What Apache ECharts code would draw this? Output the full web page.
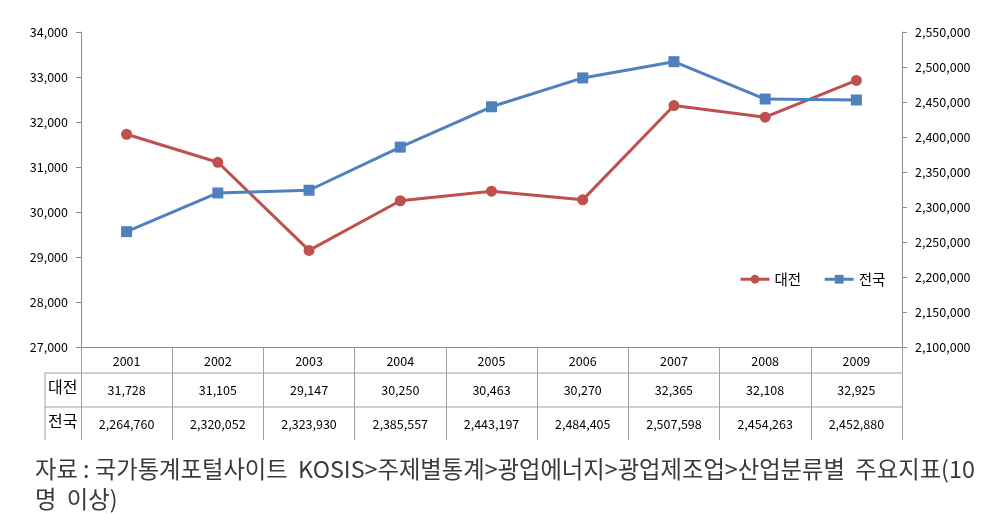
<!DOCTYPE html>
<html><head><meta charset="utf-8">
<script src="https://cdn.jsdelivr.net/npm/echarts@6/dist/echarts.min.js"></script>
<style>html,body{margin:0;padding:0;background:#fff}#c{width:1002px;height:514px}</style>
</head><body><div id="c"></div>
<script>
const years = ['2001','2002','2003','2004','2005','2006','2007','2008','2009'];
const seriesNames = ['대전','전국'];
const daejeon = [31728,31105,29147,30250,30463,30270,32365,32108,32925];
const national = [2264760,2320052,2323930,2385557,2443197,2484405,2507598,2454263,2452880];
const sourceLines = ['자료 : 국가통계포털사이트  KOSIS>주제별통계>광업에너지>광업제조업>산업분류별  주요지표(10', '명  이상)'];

const FONT = '"Noto Sans CJK KR", sans-serif';
const fmt = v => Number(v).toLocaleString('en-US');
const chart = echarts.init(document.getElementById('c'), null, {renderer:'canvas'});
const gridL = 81, gridR = 902, gridT = 32, gridB = 347;
const rowY = [347, 373, 407, 440];
const tblLeft = 45;
const grey = '#8c8c8c';
const hidden = {show:false};

function tableAxis(values, margin){
  return {
    type:'category', data: values, position:'bottom', gridIndex:0,
    axisLine:hidden, axisTick:hidden, splitLine:hidden,
    axisLabel:{show:true, interval:0, margin: margin, fontSize:12.5, color:'#000', fontFamily:FONT, formatter: v => fmt(v)}
  };
}

chart.setOption({
  animation:false,
  textStyle:{fontFamily:FONT},
  grid:{left:gridL, right:1002-gridR, top:gridT, bottom:514-gridB, containLabel:false},
  legend:{
    data:seriesNames, left:734, top:267, itemWidth:29, itemHeight:11, itemGap:22,
    lineStyle:{width:3},
    textStyle:{fontSize:14.5, color:'#000', fontFamily:FONT}
  },
  xAxis:[
    {type:'category', data:years, boundaryGap:true,
     axisLine:{lineStyle:{color:grey}},
     axisTick:{show:true, interval:0, length:rowY[3]-rowY[0], lineStyle:{color:'#a0a0a0'}},
     axisLabel:{interval:0, margin:8, fontSize:12.5, color:'#000', fontFamily:FONT},
     splitLine:hidden},
    tableAxis(daejeon, 37),
    tableAxis(national, 71)
  ],
  yAxis:[
    {type:'value', min:27000, max:34000, interval:1000, position:'left',
     axisLine:{show:true, lineStyle:{color:grey}},
     axisTick:{show:true, length:5, lineStyle:{color:grey}},
     splitLine:hidden,
     axisLabel:{margin:13, fontSize:12.5, color:'#000', fontFamily:FONT, formatter:v=>fmt(v)}},
    {type:'value', min:2100000, max:2550000, interval:50000, position:'right',
     axisLine:{show:true, lineStyle:{color:grey}},
     axisTick:{show:true, length:5, lineStyle:{color:grey}},
     splitLine:hidden,
     axisLabel:{margin:13, fontSize:12.5, color:'#000', fontFamily:FONT, formatter:v=>fmt(v)}}
  ],
  series:[
    {name:seriesNames[0], type:'line', data:daejeon, xAxisIndex:0, yAxisIndex:0,
     symbol:'circle', symbolSize:11, color:'#C0504D',
     lineStyle:{width:3, color:'#C0504D'}, itemStyle:{color:'#C0504D'}},
    {name:seriesNames[1], type:'line', data:national, xAxisIndex:0, yAxisIndex:1,
     symbol:'rect', symbolSize:11, color:'#4F81BD',
     lineStyle:{width:3, color:'#4F81BD'}, itemStyle:{color:'#4F81BD'}}
  ],
  graphic:[
    {type:'line', shape:{x1:tblLeft, y1:rowY[1], x2:gridR, y2:rowY[1]}, style:{stroke:'#a0a0a0', lineWidth:1}},
    {type:'line', shape:{x1:tblLeft, y1:rowY[2], x2:gridR, y2:rowY[2]}, style:{stroke:'#a0a0a0', lineWidth:1}},
    {type:'line', shape:{x1:tblLeft, y1:rowY[1], x2:tblLeft, y2:rowY[3]}, style:{stroke:'#a0a0a0', lineWidth:1}},
    {type:'text', left:tblLeft+3, top:(rowY[1]+rowY[2])/2-11, style:{text:seriesNames[0], fontSize:16, fill:'#000', fontFamily:FONT}},
    {type:'text', left:tblLeft+3, top:(rowY[2]+rowY[3])/2-11, style:{text:seriesNames[1], fontSize:16, fill:'#000', fontFamily:FONT}},
    {type:'text', left:35, top:454, style:{text:sourceLines.join('\n'), fontSize:23.3, lineHeight:30, fill:'#3a3a3a', fontFamily:FONT}}
  ]
});
</script></body></html>
